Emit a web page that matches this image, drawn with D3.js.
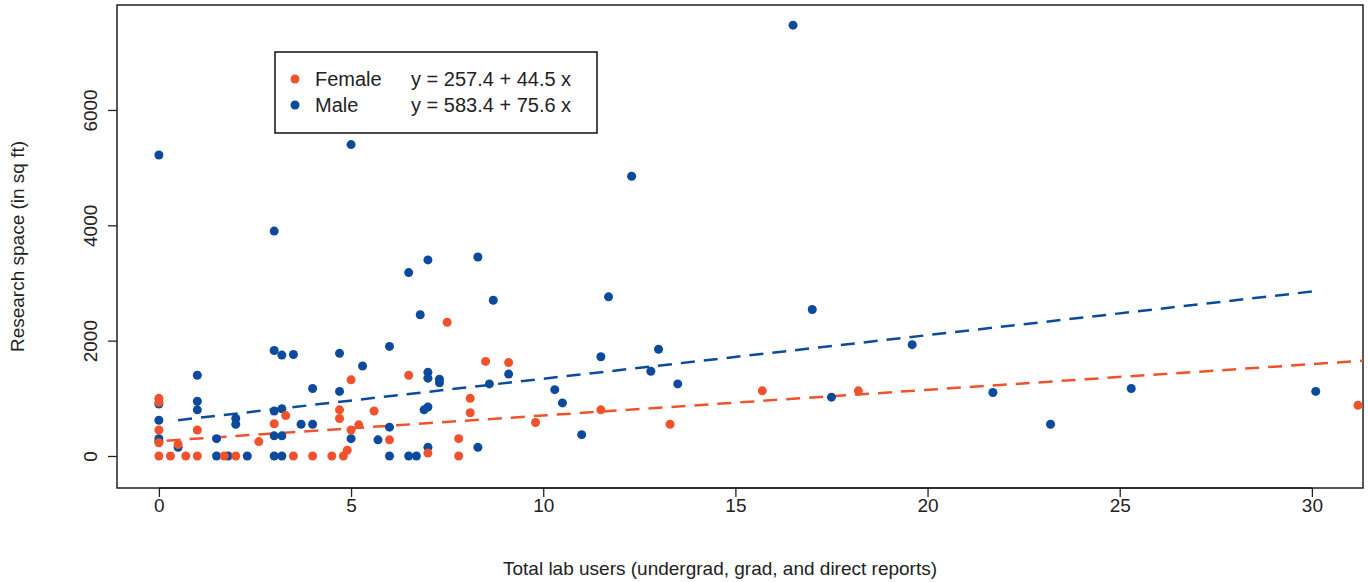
<!DOCTYPE html>
<html lang="en">
<head>
<meta charset="utf-8">
<script src="https://d3js.org/d3.v7.min.js"></script>
<style>
body { margin: 0; background: #fff; }
text { font-family: "Liberation Sans", Arial, sans-serif; fill: #222; }
</style>
</head>
<body>
<script>
// data: [total lab users, research space]
const maleX = [0,0,0,0,0,0.5,1,1,1,1.5,1.5,2,2,1.8,2.3,3,3,3.2,3.5,3,3.2,3,3.2,3,3.2,3.7,4,4,4.7,4.7,5,5,5.3,5.7,6,6,6,6.5,6.5,6.7,6.8,7,7,7,6.9,7,7,7.3,7.3,8.3,8.3,8.6,8.7,9.1,10.3,10.5,11,11.5,11.7,12.3,12.8,13,13.5,16.5,17,17.5,19.6,21.7,23.2,25.3,30.1];
const maleY = [5220,900,620,300,250,150,1400,950,800,300,0,650,550,0,0,3900,1830,1750,1760,780,820,350,350,0,0,550,1170,550,1780,1120,5400,300,1560,280,1900,500,0,3180,0,0,2450,3400,1450,1350,800,850,150,1330,1270,3450,150,1250,2700,1420,1150,920,370,1720,2760,4850,1470,1850,1250,7470,2540,1020,1930,1100,550,1170,1120];
const femaleX = [0,0,0,0,0,0.3,0.5,0.7,1,1,1.7,2,2.6,3,3.3,3.5,4,4.5,4.7,4.7,4.8,4.9,5,5,5.2,5.6,6,6.5,7,7.5,7.8,7.8,8.1,8.1,8.5,9.1,9.8,11.5,13.3,15.7,18.2,31.2];
const femaleY = [1000,930,450,230,0,0,200,0,450,0,0,0,250,560,700,0,0,0,800,650,0,100,1320,450,540,780,280,1400,50,2320,300,0,1000,750,1640,1620,580,800,550,1130,1130,880];
const xTicks = [0,5,10,15,20,25,30];
const yTicks = [0,2000,4000,6000];
const fit = { Female: [257.4, 44.5], Male: [583.4, 75.6] };
const colors = { Female: "#f0522c", Male: "#0c4a9c" };

const W = 1368, H = 582;
const svg = d3.select("body").append("svg").attr("width", W).attr("height", H);
const pL = 117, pR = 1363, pT = 5, pB = 488;

const x = d3.scaleLinear().domain([-1.09, 31.33]).range([pL, pR]);
const y = d3.scaleLinear().domain([-555, 7820]).range([pB, pT]);

svg.append("rect").attr("x", pL).attr("y", pT).attr("width", pR - pL).attr("height", pB - pT)
  .attr("fill", "none").attr("stroke", "#222").attr("stroke-width", 1.5);

const xa = svg.append("g").attr("transform", `translate(0,${pB})`)
  .call(d3.axisBottom(x).tickValues(xTicks).tickSize(9).tickPadding(2));
const ya = svg.append("g").attr("transform", `translate(${pL},0)`)
  .call(d3.axisLeft(y).tickValues(yTicks).tickFormat(d3.format("d")).tickSize(9));
[xa, ya].forEach(a => {
  a.select(".domain").remove();
  a.selectAll("line").attr("stroke", "#222").attr("stroke-width", 1.3);
  a.selectAll("text").style("font-size", "19px").attr("fill", "#222");
});
svg.append("line").attr("x1", x(0)).attr("x2", x(30)).attr("y1", pB).attr("y2", pB).attr("stroke", "#222").attr("stroke-width", 1.3);
// rotate y tick labels like base R
ya.selectAll(".tick text").attr("text-anchor", "middle").attr("x", 0)
  .attr("transform", "translate(-27,0) rotate(-90)").attr("dy", "0.35em");

svg.append("text").attr("x", (pL + pR) / 2 - 20).attr("y", 575).attr("text-anchor", "middle")
  .style("font-size", "19px").text("Total lab users (undergrad, grad, and direct reports)");
svg.append("text").attr("transform", `translate(24,${(pT + pB) / 2}) rotate(-90)`).attr("text-anchor", "middle")
  .style("font-size", "19px").text("Research space (in sq ft)");

// fit lines
const lineRange = { Female: [0.2, 31.33], Male: [0.5, 30] };
Object.keys(fit).forEach(k => {
  const [a, b] = fit[k];
  svg.append("line").attr("x1", x(lineRange[k][0])).attr("x2", x(lineRange[k][1]))
    .attr("y1", y(a + b * lineRange[k][0])).attr("y2", y(a + b * lineRange[k][1]))
    .attr("stroke", colors[k]).attr("stroke-width", 2.5).attr("stroke-dasharray", "14,9");
});

const pts = (xs, ys, c) => svg.append("g").selectAll("circle").data(xs).join("circle")
  .attr("cx", d => x(d)).attr("cy", (d, i) => y(ys[i])).attr("r", 4.5).attr("fill", c);
pts(maleX, maleY, colors.Male);
pts(femaleX, femaleY, colors.Female);

// legend
const lg = svg.append("g");
lg.append("rect").attr("x", 275).attr("y", 52).attr("width", 322).attr("height", 81)
  .attr("fill", "#fff").attr("stroke", "#111").attr("stroke-width", 1.5);
["Female", "Male"].forEach((k, i) => {
  const yy = 79 + i * 26;
  lg.append("circle").attr("cx", 295).attr("cy", yy).attr("r", 4.5).attr("fill", colors[k]);
  lg.append("text").attr("x", 315).attr("y", yy).attr("dy", "0.35em").style("font-size", "20px").text(k);
  lg.append("text").attr("x", 411).attr("y", yy).attr("dy", "0.35em").style("font-size", "20px")
    .text(`y = ${fit[k][0].toFixed(1)} + ${fit[k][1].toFixed(1)} x`);
});
</script>
</body>
</html>
